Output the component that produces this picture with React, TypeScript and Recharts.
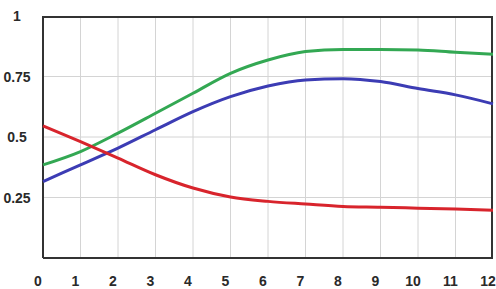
import * as React from "react";
import {
  LineChart,
  Line,
  XAxis,
  YAxis,
  CartesianGrid,
} from "recharts";

// values, one per integer step
const steps = [0, 1, 2, 3, 4, 5, 6, 7, 8, 9, 10, 11, 12];
const greenValues = [0.385, 0.44, 0.516, 0.598, 0.681, 0.763, 0.818, 0.853, 0.862, 0.862, 0.86, 0.85, 0.842];
const blueValues = [0.316, 0.385, 0.454, 0.53, 0.605, 0.667, 0.711, 0.736, 0.741, 0.729, 0.7, 0.674, 0.637];
const redValues = [0.546, 0.481, 0.413, 0.344, 0.289, 0.252, 0.234, 0.223, 0.213, 0.21, 0.206, 0.202, 0.197];
const yTicks = [0.25, 0.5, 0.75, 1];

const labelStyle = {
  fontFamily: "'Liberation Sans', Arial, sans-serif",
  fontSize: 14,
  fontWeight: "bold",
  fill: "#2a2a2a",
};

// y labels in the reference are centred, not right-aligned
function YTick(props: any) {
  const { x, y, payload } = props;
  return (
    <text x={x} y={y} dy={5} textAnchor="middle" style={labelStyle}>
      {payload.value}
    </text>
  );
}

// frame = plot area edges from the chart's own offset; top/right pulled in 1px
// so the 2px stroke stays inside the plot area
const frameRows = ({ offset }: any) => [offset.top + 1, offset.top + offset.height];
const frameCols = ({ offset }: any) => [offset.left, offset.left + offset.width - 1];

// light grid inside the frame only
const innerRows = ({ offset }: any) =>
  yTicks.filter((v) => v < 1).map((v) => offset.top + offset.height * (1 - v));
const innerCols = ({ offset }: any) =>
  steps
    .filter((t) => t > 0 && t < 12)
    .map((t) => offset.left + (offset.width * t) / 12);

export default function App() {
  const data = React.useMemo(
    () =>
      steps.map((t, i) => ({
        t,
        green: greenValues[i],
        blue: blueValues[i],
        red: redValues[i],
      })),
    []
  );

  return (
    <div style={{ position: "absolute", left: 0, top: 0, width: 496, height: 289, background: "#fff" }}>
      <LineChart
        width={496}
        height={289}
        data={data}
        margin={{ top: 16, right: 3, bottom: 0, left: 0 }}
      >
        <CartesianGrid
          stroke="#d4d4d4"
          strokeWidth={1}
          horizontalCoordinatesGenerator={innerRows}
          verticalCoordinatesGenerator={innerCols}
        />
        <CartesianGrid
          stroke="#333"
          strokeWidth={2}
          fill="none"
          horizontalCoordinatesGenerator={frameRows}
          verticalCoordinatesGenerator={frameCols}
        />
        <XAxis
          dataKey="t"
          type="number"
          domain={[0, 12]}
          ticks={steps}
          interval={0}
          height={31}
          axisLine={false}
          tickLine={false}
          tickMargin={12}
          tick={{ ...labelStyle, dx: -5 }}
        />
        <YAxis
          type="number"
          domain={[0, 1]}
          ticks={yTicks}
          width={43}
          axisLine={false}
          tickLine={false}
          tickMargin={20}
          tick={<YTick />}
        />
        <Line type="monotone" dataKey="green" stroke="#33a853" strokeWidth={3} dot={false} isAnimationActive={false} />
        <Line type="monotone" dataKey="blue" stroke="#3c3cb4" strokeWidth={3} dot={false} isAnimationActive={false} />
        <Line type="monotone" dataKey="red" stroke="#d8242c" strokeWidth={3} dot={false} isAnimationActive={false} />
      </LineChart>
    </div>
  );
}
